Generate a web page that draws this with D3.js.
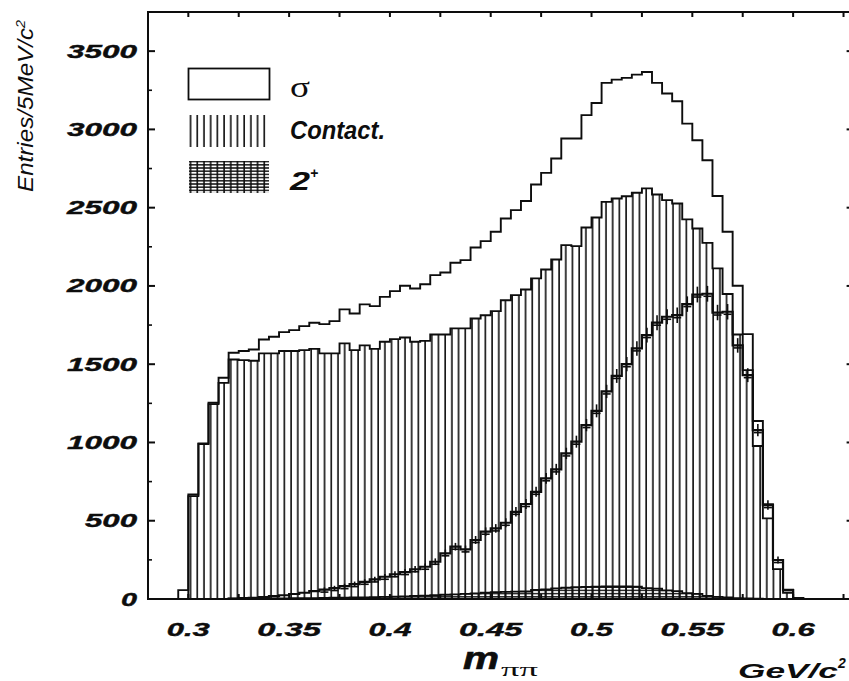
<!DOCTYPE html>
<html>
<head>
<meta charset="utf-8">
<script src="https://cdn.jsdelivr.net/npm/d3@7"></script>
<style>
  html, body { margin: 0; padding: 0; background: #fff; }
  svg { display: block; }
</style>
</head>
<body>
<svg id="chart" width="849" height="681"></svg>
<script>
// m(pi pi) spectrum, 5 MeV/c^2 bins (lower edges in GeV/c^2)
const binEdges = [
  0.295, 0.300, 0.305, 0.310, 0.315, 0.320, 0.325, 0.330, 0.335, 0.340,
  0.345, 0.350, 0.355, 0.360, 0.365, 0.370, 0.375, 0.380, 0.385, 0.390,
  0.395, 0.400, 0.405, 0.410, 0.415, 0.420, 0.425, 0.430, 0.435, 0.440,
  0.445, 0.450, 0.455, 0.460, 0.465, 0.470, 0.475, 0.480, 0.485, 0.490,
  0.495, 0.500, 0.505, 0.510, 0.515, 0.520, 0.525, 0.530, 0.535, 0.540,
  0.545, 0.550, 0.555, 0.560, 0.565, 0.570, 0.575, 0.580, 0.585, 0.590,
  0.595, 0.600
];
const binWidth = 0.005;

// open histogram (sigma)
const sigmaTotal = [
  57, 668, 994, 1254, 1413, 1573, 1584, 1594, 1658, 1675,
  1705, 1718, 1743, 1765, 1756, 1775, 1850, 1824, 1882, 1871,
  1930, 1967, 2001, 1984, 2011, 2069, 2086, 2148, 2165, 2246,
  2286, 2346, 2431, 2484, 2543, 2648, 2722, 2814, 2942, 2942,
  3091, 3169, 3297, 3318, 3329, 3350, 3367, 3297, 3229, 3180,
  3037, 2931, 2803, 2575, 2346, 2001, 1692, 1137, 605, 249,
  60, 5
];

// vertically hatched histogram (contact term)
const contact = [
  0, 657, 990, 1245, 1381, 1530, 1526, 1522, 1569, 1569,
  1584, 1584, 1590, 1598, 1569, 1569, 1633, 1590, 1620, 1598,
  1643, 1660, 1671, 1643, 1649, 1690, 1690, 1729, 1729, 1792,
  1813, 1839, 1909, 1941, 1977, 2048, 2105, 2169, 2261, 2254,
  2373, 2437, 2537, 2559, 2573, 2595, 2623, 2584, 2548, 2527,
  2425, 2367, 2275, 2112, 1948, 1690, 1462, 977, 515, 191,
  40, 0
];

// histogram with error bars
const measured = [
  0, 0, 0, 0, 0, 3, 5, 8, 12, 18,
  24, 32, 40, 50, 60, 70, 82, 95, 110, 125,
  142, 158, 172, 190, 206, 238, 292, 334, 317, 377,
  430, 451, 487, 557, 607, 685, 771, 828, 930, 1005,
  1111, 1202, 1326, 1425, 1500, 1601, 1686, 1765, 1803, 1813,
  1884, 1945, 1950, 1830, 1835, 1620, 1430, 1079, 600, 249,
  57, 5
];
const measuredErr = [
  0, 0, 0, 0, 0, 2, 2, 3, 3, 4,
  5, 6, 6, 7, 8, 8, 9, 10, 10, 11,
  12, 13, 13, 14, 14, 15, 17, 18, 18, 19,
  21, 21, 22, 24, 25, 26, 28, 29, 30, 32,
  33, 35, 36, 38, 39, 40, 41, 42, 42, 43,
  43, 44, 44, 43, 43, 40, 38, 33, 24, 16,
  8, 2
];

// cross-hatched histogram (2+)
const twoPlus = [
  0, 0, 0, 0, 0, 2, 2, 3, 3, 4,
  4, 5, 5, 6, 7, 8, 9, 10, 11, 12,
  14, 15, 17, 20, 22, 25, 27, 30, 33, 36,
  40, 44, 46, 47, 48, 58, 62, 68, 72, 75,
  77, 79, 80, 80, 80, 79, 70, 66, 55, 50,
  38, 33, 20, 13, 11, 6, 4, 2, 1, 0,
  0, 0
];

// axis ticks
const yTickValues = [0, 500, 1000, 1500, 2000, 2500, 3000, 3500];
const yMinorValues = [250, 750, 1250, 1750, 2250, 2750, 3250, 3750];
const xTickValues = [0.3, 0.35, 0.4, 0.45, 0.5, 0.55, 0.6];
const xMinorValues = [0.325, 0.375, 0.425, 0.475, 0.525, 0.575, 0.625];
const xTickLabels = ["0.3", "0.35", "0.4", "0.45", "0.5", "0.55", "0.6"];

const legendItems = [
  { key: "sigma", label: "σ" },
  { key: "contact", label: "Contact." },
  { key: "twoPlus", label: "2" }
];

const svg = d3.select("#chart");
const ink = "#0d0d0d";

const x = d3.scaleLinear().domain([0.28, 0.63]).range([148, 853.6]);
const y = d3.scaleLinear().domain([0, 3750]).range([599, 12]);

// hatch patterns
const defs = svg.append("defs");
const vh = defs.append("pattern").attr("id", "vhatch")
  .attr("patternUnits", "userSpaceOnUse").attr("width", 6.7).attr("height", 10);
vh.append("line").attr("x1", 3).attr("x2", 3).attr("y1", 0).attr("y2", 10)
  .attr("stroke", ink).attr("stroke-width", 1.6);

const xh = defs.append("pattern").attr("id", "xhatch")
  .attr("patternUnits", "userSpaceOnUse").attr("width", 6.7).attr("height", 3.2);
xh.append("line").attr("x1", 3).attr("x2", 3).attr("y1", 0).attr("y2", 3.2)
  .attr("stroke", ink).attr("stroke-width", 1.6);
xh.append("line").attr("x1", 0).attr("x2", 6.7).attr("y1", 1.6).attr("y2", 1.6)
  .attr("stroke", ink).attr("stroke-width", 1.4);

// step outline points for a histogram series
function stairPoints(vals) {
  const pts = [[x(binEdges[0]), y(0)]];
  vals.forEach((v, i) => {
    pts.push([x(binEdges[i]), y(v)]);
    pts.push([x(binEdges[i] + binWidth), y(v)]);
  });
  pts.push([x(binEdges[binEdges.length - 1] + binWidth), y(0)]);
  return pts;
}
const line = d3.line();
const area = d3.area().x(d => d[0]).y0(y(0)).y1(d => d[1]);

const plot = svg.append("g");

// contact: hatched fill + outline
plot.append("path").attr("d", area(stairPoints(contact)))
  .attr("fill", "url(#vhatch)").attr("stroke", "none");
plot.append("path").attr("d", line(stairPoints(contact)))
  .attr("fill", "none").attr("stroke", ink).attr("stroke-width", 1.9);

// sigma outline
plot.append("path").attr("d", line(stairPoints(sigmaTotal)))
  .attr("fill", "none").attr("stroke", ink).attr("stroke-width", 1.9);

// 2+ cross-hatched
plot.append("path").attr("d", area(stairPoints(twoPlus)))
  .attr("fill", "url(#xhatch)").attr("stroke", "none");
plot.append("path").attr("d", line(stairPoints(twoPlus)))
  .attr("fill", "none").attr("stroke", ink).attr("stroke-width", 1.8);

// histogram with error bars
plot.append("path").attr("d", line(stairPoints(measured)))
  .attr("fill", "none").attr("stroke", ink).attr("stroke-width", 2.2);
const eb = plot.append("g").attr("stroke", ink).attr("stroke-width", 1.6);
binEdges.forEach((e, i) => {
  if (measured[i] < 60) return;
  const cx = x(e + binWidth / 2);
  eb.append("line").attr("x1", cx).attr("x2", cx)
    .attr("y1", y(measured[i] - measuredErr[i]) + 1).attr("y2", y(measured[i] + measuredErr[i]) - 1);
  eb.append("line").attr("x1", cx - 4).attr("x2", cx + 4)
    .attr("y1", y(measured[i]) + 2.5).attr("y2", y(measured[i]) + 2.5);
});

// frame and ticks
const axes = svg.append("g").attr("stroke", ink).attr("fill", "none");
const x0 = x.range()[0], x1 = x.range()[1], yb = y(0), yt = y.range()[1];
axes.append("path").attr("d", `M${x0},${yt}H${x1}V${yb}H${x0}Z`).attr("stroke-width", 2);
yTickValues.forEach(v => {
  axes.append("line").attr("x1", x0).attr("x2", x0 + 7).attr("y1", y(v)).attr("y2", y(v)).attr("stroke-width", 2);
  axes.append("line").attr("x1", x1).attr("x2", x1 - 7).attr("y1", y(v)).attr("y2", y(v)).attr("stroke-width", 2);
});
yMinorValues.forEach(v => {
  axes.append("line").attr("x1", x0).attr("x2", x0 + 4).attr("y1", y(v)).attr("y2", y(v)).attr("stroke-width", 1.6);
  axes.append("line").attr("x1", x1).attr("x2", x1 - 4).attr("y1", y(v)).attr("y2", y(v)).attr("stroke-width", 1.6);
});
xTickValues.concat(xMinorValues).forEach(v => {
  axes.append("line").attr("x1", x(v)).attr("x2", x(v)).attr("y1", yt).attr("y2", yt + 5).attr("stroke-width", 2);
  axes.append("line").attr("x1", x(v)).attr("x2", x(v)).attr("y1", yb).attr("y2", yb - 5).attr("stroke-width", 2);
});

// tick labels (wide bold italic)
const labelFont = "'Liberation Sans', Arial, sans-serif";
const tl = svg.append("g").attr("font-family", labelFont).attr("font-weight", "bold")
  .attr("font-style", "italic").attr("font-size", 18.5).attr("fill", ink)
  .attr("stroke", ink).attr("stroke-width", 0.4);
yTickValues.forEach(v => {
  const s = String(v);
  tl.append("text").attr("x", 137).attr("y", y(v) + 6.5).attr("text-anchor", "end")
    .attr("textLength", s.length * 18 - 2).attr("lengthAdjust", "spacingAndGlyphs").text(s);
});
xTickValues.forEach((v, i) => {
  const s = xTickLabels[i];
  const n = s.replace(".", "").length;
  tl.append("text").attr("x", x(v)).attr("y", 636).attr("text-anchor", "middle")
    .attr("textLength", n * 20.5 + 2).attr("lengthAdjust", "spacingAndGlyphs").text(s);
});

// y axis title
const yt1 = svg.append("text").attr("transform", "translate(33,192) rotate(-90)")
  .attr("font-family", labelFont).attr("font-style", "italic").attr("font-size", 22)
  .attr("fill", ink).attr("textLength", 172).attr("lengthAdjust", "spacingAndGlyphs");
yt1.append("tspan").text("Entries/5MeV/c");
yt1.append("tspan").attr("dy", -8).attr("font-size", 13).text("2");

// x axis title
svg.append("text").attr("x", 463).attr("y", 669).attr("font-family", labelFont)
  .attr("font-weight", "bold").attr("font-style", "italic").attr("font-size", 31)
  .attr("fill", ink).attr("stroke", ink).attr("stroke-width", 0.6)
  .attr("textLength", 36).attr("lengthAdjust", "spacingAndGlyphs").text("m");
svg.append("text").attr("x", 501).attr("y", 676).attr("font-family", "'Liberation Serif', serif")
  .attr("font-size", 18).attr("fill", ink).attr("textLength", 37)
  .attr("lengthAdjust", "spacingAndGlyphs").text("ππ");
const unit = svg.append("text").attr("x", 738).attr("y", 678).attr("font-family", labelFont)
  .attr("font-weight", "bold").attr("font-style", "italic").attr("font-size", 21)
  .attr("fill", ink);
unit.append("tspan").attr("textLength", 100).attr("lengthAdjust", "spacingAndGlyphs").text("GeV/c");
unit.append("tspan").attr("dy", -10).attr("font-size", 14).text("2");

// legend
const lg = svg.append("g");
lg.append("rect").attr("x", 188.5).attr("y", 68.5).attr("width", 81).attr("height", 31)
  .attr("fill", "#fff").attr("stroke", ink).attr("stroke-width", 1.8);
lg.append("rect").attr("x", 189).attr("y", 115).attr("width", 80).attr("height", 32)
  .attr("fill", "url(#vhatch)");
lg.append("rect").attr("x", 189).attr("y", 161).attr("width", 80).attr("height", 32)
  .attr("fill", "url(#xhatch)");
lg.append("text").attr("x", 290).attr("y", 97).attr("font-family", "'Liberation Serif', serif")
  .attr("font-size", 30).attr("fill", ink).attr("textLength", 20)
  .attr("lengthAdjust", "spacingAndGlyphs").text(legendItems[0].label);
lg.append("text").attr("x", 290).attr("y", 139).attr("font-family", labelFont)
  .attr("font-weight", "bold").attr("font-style", "italic").attr("font-size", 25)
  .attr("fill", ink).attr("textLength", 95).attr("lengthAdjust", "spacingAndGlyphs")
  .text(legendItems[1].label);
const tp = lg.append("text").attr("x", 290).attr("y", 190).attr("font-family", labelFont)
  .attr("font-weight", "bold").attr("font-style", "italic").attr("font-size", 25).attr("fill", ink);
tp.append("tspan").attr("textLength", 20).attr("lengthAdjust", "spacingAndGlyphs").text(legendItems[2].label);
tp.append("tspan").attr("dy", -12).attr("font-size", 14).text("+");
</script>
</body>
</html>
